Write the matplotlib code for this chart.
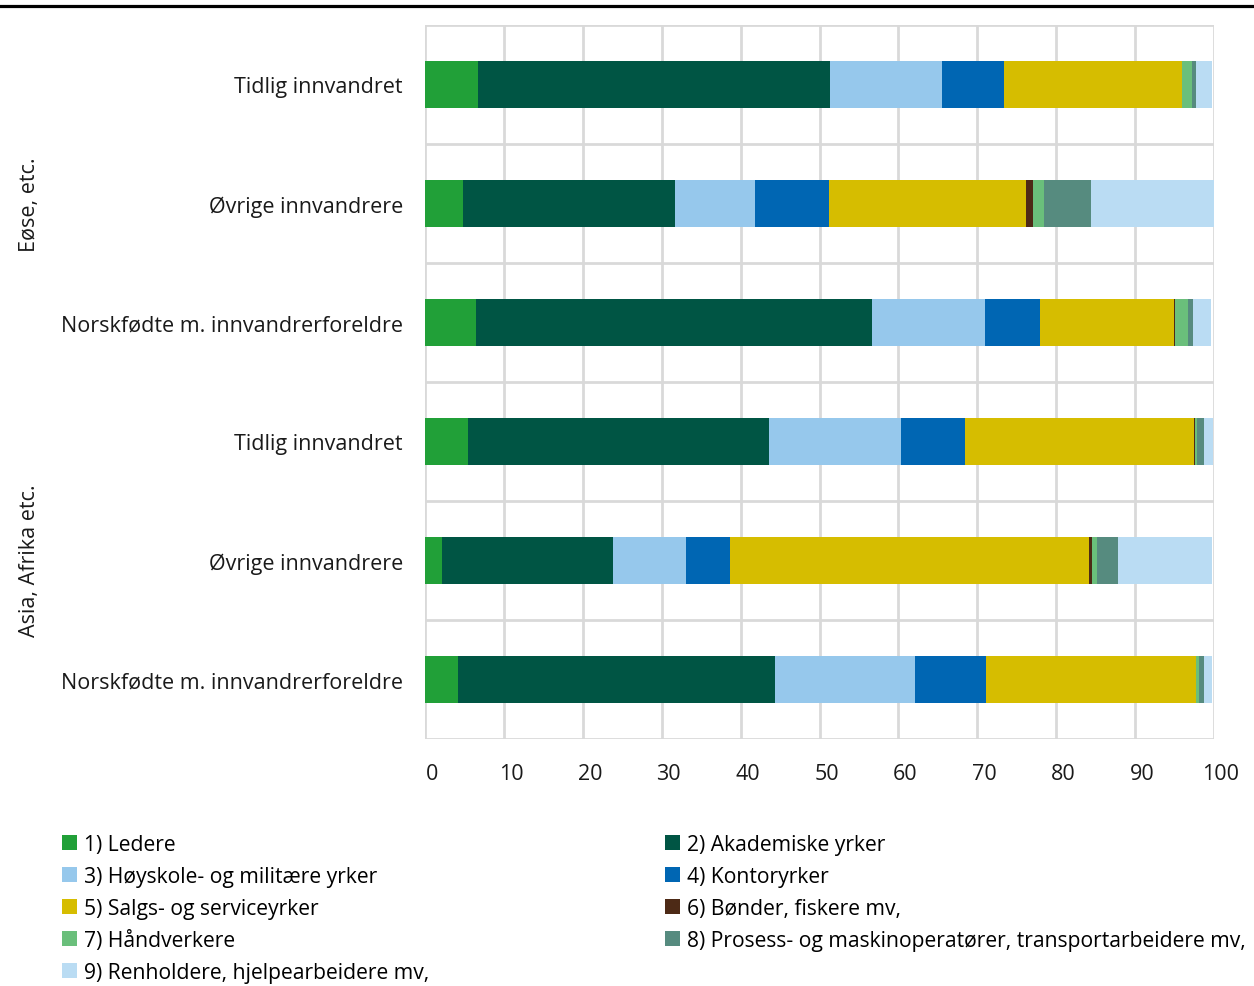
import matplotlib.pyplot as plt
import matplotlib.lines as mlines
import matplotlib.transforms as mtransforms
import numpy as np

plt.rcParams['font.family'] = ['Open Sans', 'DejaVu Sans']

rows = ['Tidlig innvandret', 'Øvrige innvandrere', 'Norskfødte m. innvandrerforeldre',
        'Tidlig innvandret', 'Øvrige innvandrere', 'Norskfødte m. innvandrerforeldre']
groups = ['Eøse, etc.', 'Asia, Afrika etc.']

series = ['1) Ledere', '2) Akademiske yrker', '3) Høyskole- og militære yrker',
          '4) Kontoryrker', '5) Salgs- og serviceyrker', '6) Bønder, fiskere mv,',
          '7) Håndverkere', '8) Prosess- og maskinoperatører, transportarbeidere mv,',
          '9) Renholdere, hjelpearbeidere mv,']
colors = ['#21a038', '#005544', '#96c8ec', '#0066b3', '#d6bd00', '#4d2a16',
          '#6abf7b', '#568b7f', '#badcf3']

# percent, one list per occupation group, in row order
ledere      = [6.7, 4.8, 6.5, 5.4, 2.2, 4.2]
akademiske  = [44.6, 26.9, 50.2, 38.2, 21.6, 40.2]
hoyskole    = [14.2, 10.1, 14.3, 16.7, 9.3, 17.7]
kontor      = [7.9, 9.4, 6.9, 8.1, 5.6, 9.0]
salg        = [22.6, 25.0, 17.0, 29.1, 45.4, 26.6]
bonder      = [0.0, 0.8, 0.1, 0.1, 0.4, 0.0]
handverk    = [1.2, 1.4, 1.7, 0.2, 0.7, 0.4]
prosess     = [0.5, 6.0, 0.7, 0.9, 2.6, 0.6]
renhold     = [2.0, 15.6, 2.2, 1.2, 11.9, 1.0]
data = [ledere, akademiske, hoyskole, kontor, salg, bonder, handverk, prosess, renhold]

fs = 15.5
fig = plt.figure(figsize=(12.54, 9.87), dpi=100)
ax = fig.add_axes([425/1254, 247/987, 789/1254, 714/987])

y = np.arange(len(rows))
left = np.zeros(len(rows))
bars = []
for vals, c, name in zip(data, colors, series):
    b = ax.barh(y, vals, 0.4, left=left, color=c, label=name)
    bars.append(b)
    left += np.array(vals)

ax.set_xlim(0, 100)
ax.set_ylim(5.5, -0.5)
ax.set_xticks(np.arange(0, 101, 10))
ax.set_yticks(y)
ax.set_yticklabels(rows, fontsize=fs, color='#1a1a1a')
ax.set_yticks(np.arange(-0.5, 6, 1), minor=True)
ax.tick_params(axis='y', which='both', length=0, pad=16)
ax.tick_params(axis='x', length=0, pad=17, labelsize=fs, labelcolor='#1a1a1a')
# x labels sit a little right of their gridlines
shift = mtransforms.ScaledTranslation(7/100, 0, fig.dpi_scale_trans)
for lab in ax.get_xticklabels():
    lab.set_transform(lab.get_transform() + shift)
ax.grid(True, axis='x', which='major', color='#d9d9d9', lw=2)
ax.grid(True, axis='y', which='minor', color='#d9d9d9', lw=2)
ax.set_axisbelow(True)
for s in ax.spines.values():
    s.set_visible(False)

fig.text(29/1254, 1 - 205/987, groups[0], rotation=90, ha='center', va='center',
         fontsize=fs, color='#1a1a1a')
fig.text(29/1254, 1 - 561/987, groups[1], rotation=90, ha='center', va='center',
         fontsize=fs, color='#1a1a1a')

fig.add_artist(mlines.Line2D([0, 1], [1 - 7/987, 1 - 7/987], color='black', lw=2.3,
                             transform=fig.transFigure))

h = [b[0] for b in bars]
col1 = [0, 2, 4, 6, 8]
col2 = [1, 3, 5, 7]
for idx, x0 in ((col1, 62/1254), (col2, 665/1254)):
    fig.legend([h[i] for i in idx], [series[i] for i in idx], loc='upper left',
               bbox_to_anchor=(x0, 1 - 835/987), frameon=False, fontsize=15.2,
               handlelength=0.72, handleheight=0.72, handletextpad=0.3,
               labelspacing=0.52, borderpad=0, borderaxespad=0)

fig.savefig('out.png', dpi=100)
